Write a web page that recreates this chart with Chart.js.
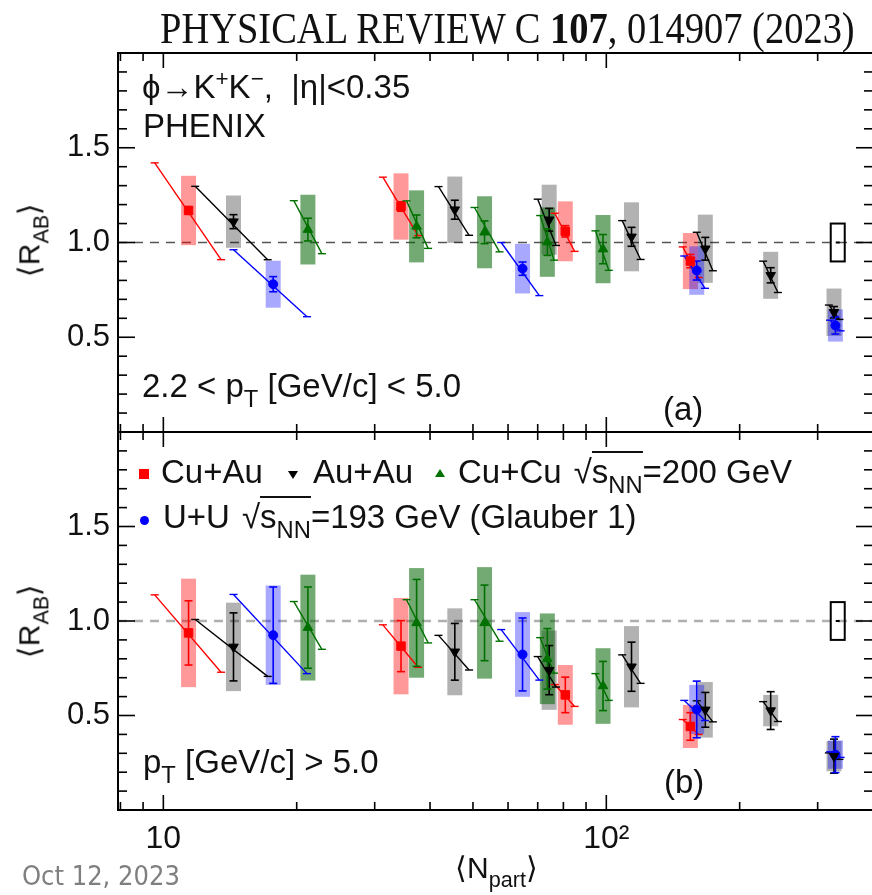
<!DOCTYPE html>
<html>
<head>
<meta charset="utf-8">
<script src="https://cdn.jsdelivr.net/npm/chart.js@4.4.0/dist/chart.umd.min.js"></script>
<style>
  html, body { margin: 0; padding: 0; background: #fff; overflow: hidden; }
  #page { position: relative; width: 872px; height: 895px; overflow: hidden; }
  canvas { position: absolute; left: 0; }
  .t { position: absolute; font-family: "Liberation Sans", Arial, sans-serif; font-size: 33px;
       line-height: 1; color: #111; white-space: nowrap; }
  .sub { font-size: 0.72em; vertical-align: -0.4em; }
  .sup { font-size: 0.68em; vertical-align: 0.55em; }
  .ov { border-top: 2px solid #111; }
  .sq { margin-left: 12px; }
  .mk { position: absolute; }
</style>
</head>
<body>
<div id="page">
  <canvas id="panelA" width="880" height="440" style="top:0"></canvas>
  <canvas id="panelB" width="880" height="475" style="top:420px"></canvas>

  <div class="t" style="left:160px; top:6px; font-family:'Liberation Serif','Times New Roman',serif; font-size:45px; transform:scaleX(0.855); transform-origin:left top;">PHYSICAL REVIEW C <b>107</b>, 014907 (2023)</div>

  <div class="t" style="left:142px; top:68px;">ϕ→K<span class="sup">+</span>K<span class="sup">−</span>,&nbsp; |η|&lt;0.35</div>
  <div class="t" style="left:143px; top:109px;">PHENIX</div>
  <div class="t" style="left:142px; top:369px;">2.2 &lt; p<span class="sub">T</span> [GeV/c] &lt; 5.0</div>
  <div class="t" style="left:663px; top:392px;">(a)</div>

  <span class="mk" style="left:139px; top:469px; width:10px; height:10px; background:#ff0000;"></span>
  <div class="t" style="left:161px; top:455px;">Cu+Au</div>
  <span class="mk" style="left:288px; top:471px; width:0; height:0; border-left:5px solid transparent; border-right:5px solid transparent; border-top:8px solid #000;"></span>
  <div class="t" style="left:313px; top:455px;">Au+Au</div>
  <span class="mk" style="left:435px; top:469px; width:0; height:0; border-left:5px solid transparent; border-right:5px solid transparent; border-bottom:8px solid #007000;"></span>
  <div class="t" style="left:458px; top:455px;">Cu+Cu<span class="sq">√</span><span class="ov">s<span class="sub">NN</span></span>=200 GeV</div>
  <span class="mk" style="left:140px; top:516px; width:9px; height:9px; border-radius:50%; background:#0000ff;"></span>
  <div class="t" style="left:163px; top:500px;">U+U<span class="sq">√</span><span class="ov">s<span class="sub">NN</span></span>=193 GeV (Glauber 1)</div>
  <div class="t" style="left:143px; top:745px;">p<span class="sub">T</span> [GeV/c] &gt; 5.0</div>
  <div class="t" style="left:664px; top:765px;">(b)</div>

  <div class="t" style="left:33px; top:240px; font-size:30px; transform:translate(-50%,-50%) rotate(-90deg);">⟨R<span class="sub">AB</span>⟩</div>
  <div class="t" style="left:33px; top:621px; font-size:30px; transform:translate(-50%,-50%) rotate(-90deg);">⟨R<span class="sub">AB</span>⟩</div>
  <div class="t" style="left:455px; top:853px; font-size:30px;">⟨N<span class="sub">part</span>⟩</div>
  <div class="t" style="left:22px; top:862px; font-size:27px; color:#7f7f7f; font-family:'Liberation Sans Narrow','DejaVu Sans Condensed',sans-serif;">Oct 12, 2023</div>
</div>

<script>
// axis range and ticks
const xMin = 7.9, xMax = 400;
const xMajorTicks = [10, 100];
const xTickLabels = ['10', '10²'];
const xMinorTicks = [8, 9, 20, 30, 40, 50, 60, 70, 80, 90, 200, 300];
const yMajorTicks = [0.5, 1.0, 1.5];
const yTickLabels = ['0.5', '1.0', '1.5'];
const yMinorTicks = [0.1, 0.2, 0.3, 0.4, 0.6, 0.7, 0.8, 0.9, 1.1, 1.2, 1.3, 1.4, 1.6, 1.7, 1.8, 1.9];

// global normalisation uncertainty
const globalNpart = 333;
const globalErr = 0.1;

// Cu+Au 200 GeV
const cuauNpart = [11.4, 34.4, 80.8, 154.8];
const cuauNpartLo = [9.56, 31.3, 76.5, 148.8];
const cuauNpartHi = [13.5, 37.6, 84.8, 161.6];
const cuauTiltUp = [1.215, 1.13, 1.09, 1.083];
const cuauTiltDown = [0.778, 0.871, 0.90, 0.904];
const cuauRabA = [1.169, 1.19, 1.059, 0.902];
const cuauStatA = [0.02, 0.025, 0.03, 0.035];
const cuauSysA = [0.183, 0.175, 0.158, 0.148];
const cuauRabB = [0.937, 0.867, 0.609, 0.442];
const cuauStatB = [0.17, 0.135, 0.094, 0.073];
const cuauSysB = [0.287, 0.255, 0.158, 0.114];

// Au+Au 200 GeV
const auauNpart = [14.4, 45.5, 74.3, 114, 167.3, 235, 326.6];
const auauNpartLo = [11.8, 41.8, 70.0, 108.6, 160, 226, 318];
const auauNpartHi = [17.2, 49.0, 77.0, 119.5, 174, 244, 336];
const auauTiltUp = [1.168, 1.104, 1.097, 1.083, 1.09, 1.09, 1.06];
const auauTiltDown = [0.819, 0.885, 0.879, 0.884, 0.88, 0.89, 0.94];
const auauRabA = [1.11, 1.173, 1.12, 1.03, 0.967, 0.827, 0.632];
const auauStatA = [0.037, 0.05, 0.06, 0.05, 0.06, 0.04, 0.03];
const auauSysA = [0.138, 0.175, 0.185, 0.182, 0.18, 0.124, 0.125];
const auauRabB = [0.863, 0.837, 0.74, 0.758, 0.53, 0.526, 0.285];
const auauStatB = [0.18, 0.15, 0.13, 0.13, 0.092, 0.1, 0.09];
const auauSysB = [0.234, 0.23, 0.21, 0.215, 0.147, 0.083, 0.08];

// Cu+Cu 200 GeV
const cucuNpart = [21.2, 37.3, 53.1, 73.6, 98.3];
const cucuNpartLo = [19.7, 35.4, 50.4, 70.9, 94.5];
const cucuNpartHi = [22.8, 39.6, 57.4, 76.2, 101.3];
const cucuTiltUp = [1.143, 1.124, 1.124, 1.14, 1.1];
const cucuTiltDown = [0.881, 0.893, 0.902, 0.905, 0.884];
const cucuRabA = [1.068, 1.085, 1.054, 1.002, 0.965];
const cucuStatA = [0.06, 0.06, 0.06, 0.07, 0.077];
const cucuSysA = [0.184, 0.19, 0.19, 0.183, 0.18];
const cucuRabB = [0.965, 0.99, 0.99, 0.80, 0.656];
const cucuStatB = [0.215, 0.23, 0.2, 0.16, 0.13];
const cucuSysB = [0.28, 0.29, 0.295, 0.24, 0.2];

// U+U 193 GeV
const uuNpart = [17.7, 64.7, 160, 329];
const uuNpartLo = [14.4, 57.9, 150, 320];
const uuNpartHi = [21.1, 70.6, 167, 338];
const uuTiltUp = [1.233, 1.16, 1.09, 1.05];
const uuTiltDown = [0.78, 0.835, 0.89, 0.95];
const uuRabA = [0.78, 0.862, 0.852, 0.562];
const uuStatA = [0.04, 0.035, 0.05, 0.045];
const uuSysA = [0.124, 0.131, 0.128, 0.085];
const uuRabB = [0.925, 0.823, 0.532, 0.293];
const uuStatB = [0.255, 0.193, 0.15, 0.095];
const uuSysB = [0.263, 0.224, 0.13, 0.075];

const systems = [
  { np: cuauNpart, lo: cuauNpartLo, hi: cuauNpartHi, up: cuauTiltUp, dn: cuauTiltDown,
    a: [cuauRabA, cuauStatA, cuauSysA], b: [cuauRabB, cuauStatB, cuauSysB],
    color: '#ff0000', box: 'rgba(255,0,0,0.4)', style: 'rect', rot: 0, radius: 6 },
  { np: auauNpart, lo: auauNpartLo, hi: auauNpartHi, up: auauTiltUp, dn: auauTiltDown,
    a: [auauRabA, auauStatA, auauSysA], b: [auauRabB, auauStatB, auauSysB],
    color: '#000000', box: 'rgba(0,0,0,0.3)', style: 'triangle', rot: 180, radius: 5.5 },
  { np: cucuNpart, lo: cucuNpartLo, hi: cucuNpartHi, up: cucuTiltUp, dn: cucuTiltDown,
    a: [cucuRabA, cucuStatA, cucuSysA], b: [cucuRabB, cucuStatB, cucuSysB],
    color: '#007000', box: 'rgba(0,100,0,0.55)', style: 'triangle', rot: 0, radius: 5.5 },
  { np: uuNpart, lo: uuNpartLo, hi: uuNpartHi, up: uuTiltUp, dn: uuTiltDown,
    a: [uuRabA, uuStatA, uuSysA], b: [uuRabB, uuStatB, uuSysB],
    color: '#0000ff', box: 'rgba(0,0,255,0.34)', style: 'circle', rot: 0, radius: 4.5 }
];

function seg(ctx, x1, y1, x2, y2) {
  ctx.beginPath(); ctx.moveTo(x1, y1); ctx.lineTo(x2, y2); ctx.stroke();
}

function panelPlugin(panel, dashColor, dashWidth) {
  return {
    id: 'hep' + panel,
    beforeDatasetsDraw(chart) {
      const { ctx, chartArea: area, scales: { x, y } } = chart;
      ctx.save();
      ctx.beginPath(); ctx.rect(area.left, area.top, area.width, area.height); ctx.clip();

      // dashed line at unity
      const y1 = y.getPixelForValue(1);
      ctx.strokeStyle = dashColor; ctx.lineWidth = dashWidth; ctx.setLineDash([9, 7]);
      seg(ctx, area.left, y1, area.right, y1);
      ctx.setLineDash([]);

      // systematic boxes
      systems.forEach(s => {
        const [r, , sys] = s[panel];
        ctx.fillStyle = s.box;
        s.np.forEach((n, i) => {
          const px = x.getPixelForValue(n);
          const top = y.getPixelForValue(r[i] + sys[i]);
          const bot = y.getPixelForValue(r[i] - sys[i]);
          ctx.fillRect(px - 7.5, top, 15, bot - top);
        });
      });

      // Npart uncertainty lines and stat bars
      systems.forEach(s => {
        const [r, stat] = s[panel];
        ctx.strokeStyle = s.color; ctx.lineWidth = 1.4;
        s.np.forEach((n, i) => {
          const xl = x.getPixelForValue(s.lo[i]), xr = x.getPixelForValue(s.hi[i]);
          const yl = y.getPixelForValue(r[i] * s.up[i]), yr = y.getPixelForValue(r[i] * s.dn[i]);
          seg(ctx, xl, yl, xr, yr);
          seg(ctx, xl - 4, yl, xl + 4, yl);
          seg(ctx, xr - 4, yr, xr + 4, yr);
          const px = x.getPixelForValue(n);
          const yt = y.getPixelForValue(r[i] + stat[i]), yb = y.getPixelForValue(r[i] - stat[i]);
          ctx.lineWidth = 1.6;
          seg(ctx, px, yt, px, yb);
          seg(ctx, px - 4, yt, px + 4, yt);
          seg(ctx, px - 4, yb, px + 4, yb);
          ctx.lineWidth = 1.4;
        });
      });
      ctx.restore();
    },
    afterDraw(chart) {
      const { ctx, chartArea: area, scales: { x, y } } = chart;
      ctx.save();
      ctx.strokeStyle = '#000';

      // global uncertainty box
      const gx = x.getPixelForValue(globalNpart);
      const gt = y.getPixelForValue(1 + globalErr), gb = y.getPixelForValue(1 - globalErr);
      ctx.lineWidth = 2;
      ctx.strokeRect(gx - 7, gt, 14, gb - gt);
      seg(ctx, gx - 2, y.getPixelForValue(1), gx + 2, y.getPixelForValue(1));

      // frame
      ctx.strokeRect(area.left, area.top, area.width, area.height);

      // inward ticks
      ctx.lineWidth = 1.6;
      const xt = (v, len) => {
        const px = x.getPixelForValue(v);
        seg(ctx, px, area.bottom, px, area.bottom - len);
        seg(ctx, px, area.top, px, area.top + len);
      };
      const yt = (v, len) => {
        const py = y.getPixelForValue(v);
        seg(ctx, area.left, py, area.left + len, py);
        seg(ctx, area.right, py, area.right - len, py);
      };
      xMajorTicks.forEach(v => xt(v, 15));
      xMinorTicks.forEach(v => xt(v, 8));
      yMajorTicks.forEach(v => yt(v, 17));
      yMinorTicks.forEach(v => yt(v, 9));
      ctx.restore();
    }
  };
}

function labelFor(v, ticks, labels) {
  const k = ticks.findIndex(t => Math.abs(t - v) < 1e-6);
  return k >= 0 ? labels[k] : '';
}

function noPad(s) {
  s.paddingTop = 0; s.paddingBottom = 0; s.paddingLeft = 0; s.paddingRight = 0;
}

function makePanel(id, panel, padding, showX, dashColor, dashWidth) {
  return new Chart(document.getElementById(id), {
    type: 'scatter',
    data: {
      datasets: systems.map(s => ({
        data: s.np.map((n, i) => ({ x: n, y: s[panel][0][i] })),
        pointStyle: s.style,
        pointRotation: s.rot,
        pointRadius: s.radius,
        pointBackgroundColor: s.color,
        pointBorderColor: s.color,
        pointBorderWidth: 1
      }))
    },
    options: {
      responsive: false,
      animation: false,
      events: [],
      layout: { padding: padding },
      plugins: { legend: { display: false }, tooltip: { enabled: false } },
      scales: {
        x: {
          type: 'logarithmic', min: xMin, max: xMax, display: showX,
          grid: { display: false, drawTicks: false }, border: { display: false },
          ticks: {
            autoSkip: false, maxRotation: 0, padding: 10, color: '#111',
            font: { family: 'Liberation Sans', size: 32 },
            callback: v => labelFor(v, xMajorTicks, xTickLabels)
          },
          afterFit: s => { if (showX) s.height = 85; noPad(s); }
        },
        y: {
          min: 0, max: 2,
          grid: { display: false, drawTicks: false }, border: { display: false },
          ticks: {
            stepSize: 0.1, autoSkip: false, padding: 8, color: '#111',
            font: { family: 'Liberation Sans', size: 31 },
            callback: v => labelFor(v, yMajorTicks, yTickLabels)
          },
          afterFit: s => { s.width = 118; noPad(s); }
        }
      }
    },
    plugins: [panelPlugin(panel, dashColor, dashWidth)]
  });
}

makePanel('panelA', 'a', { top: 53, right: 4, bottom: 8, left: 0 }, false, '#555', 1.6);
makePanel('panelB', 'b', { top: 12, right: 4, bottom: 0, left: 0 }, true, '#b0b0b0', 2.6);
</script>
</body>
</html>
